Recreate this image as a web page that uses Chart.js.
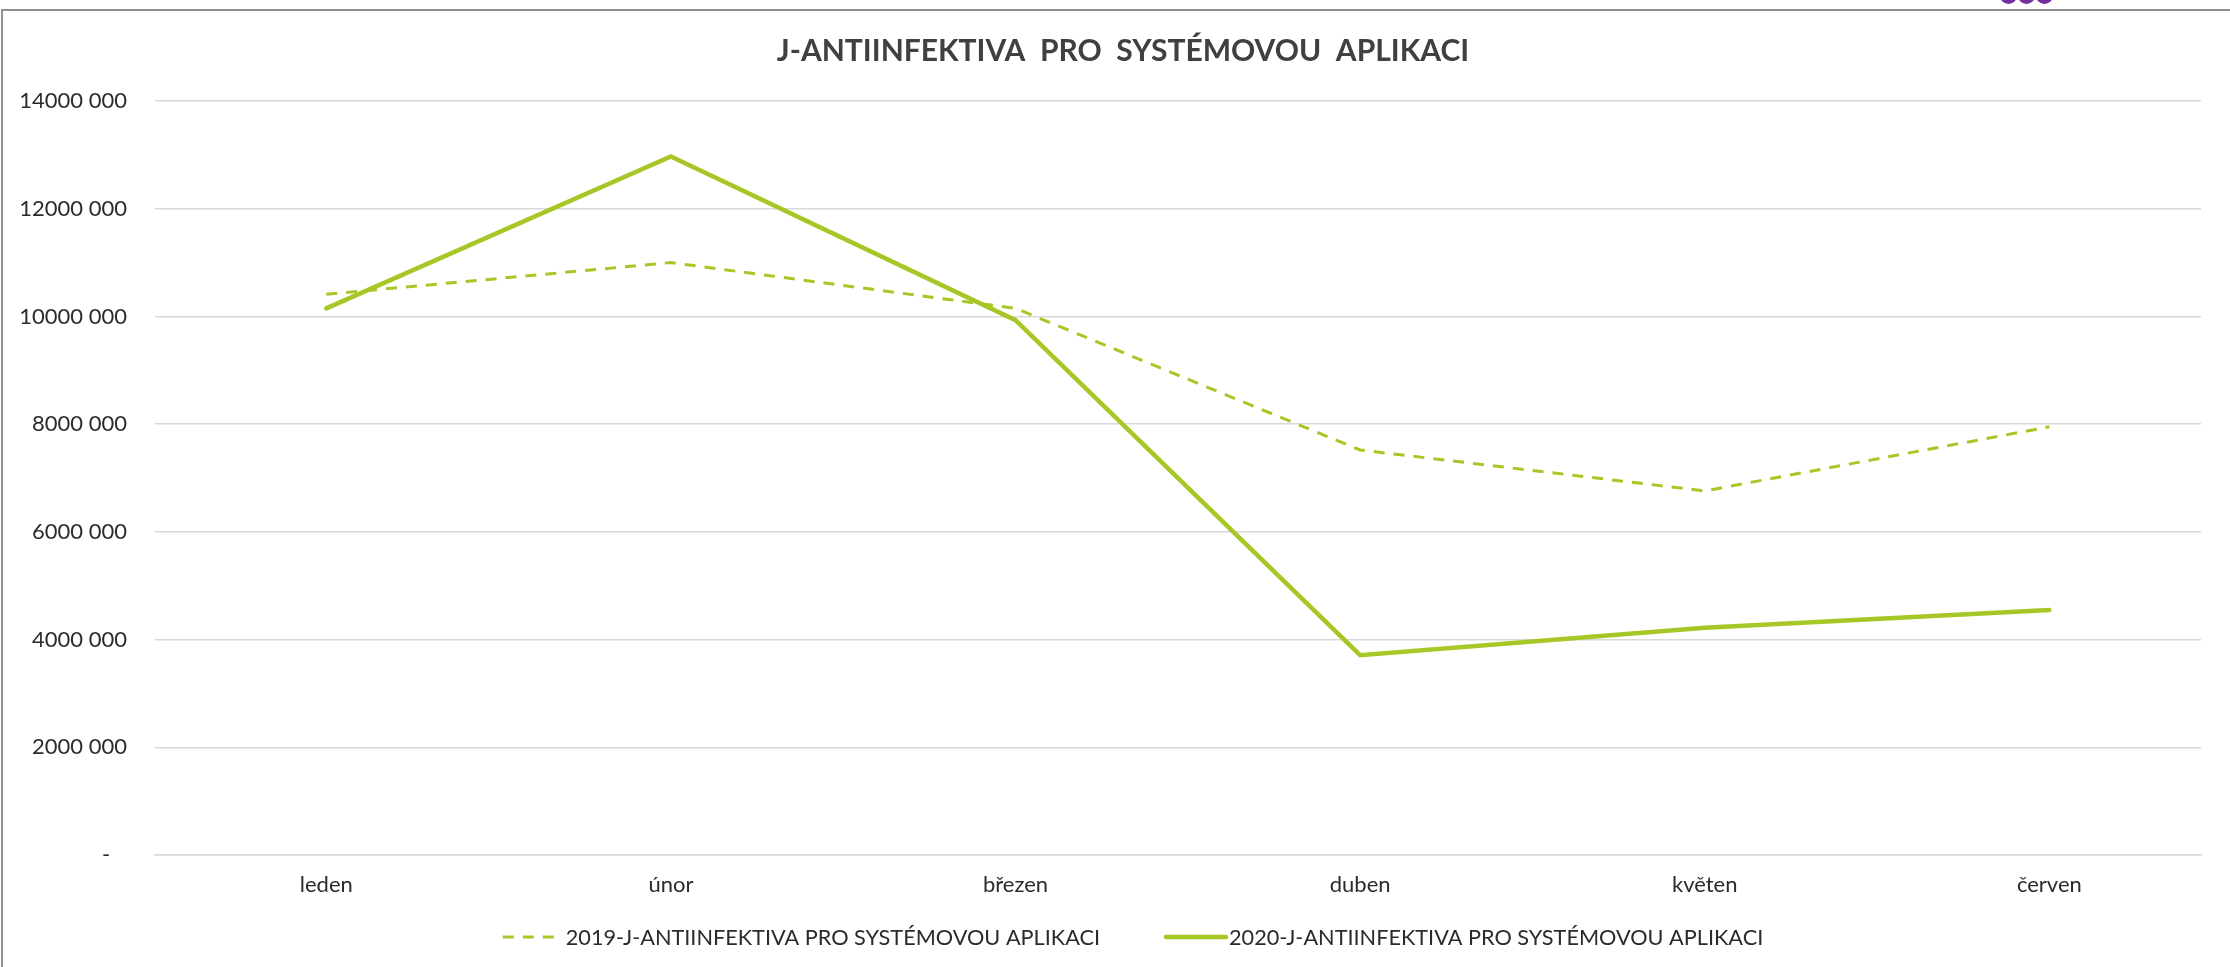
<!DOCTYPE html>
<html>
<head>
<meta charset="utf-8">
<script src="https://cdn.jsdelivr.net/npm/chart.js@4.4.1/dist/chart.umd.min.js"></script>
<style>
  html, body { margin: 0; padding: 0; background: #fff; overflow: hidden; }
  #wrap { position: relative; width: 2230px; height: 967px; }
  #frame { position: absolute; left: 1px; top: 9px; width: 2300px; height: 1000px;
           border-top: 2px solid #8f8f8f; border-left: 2px solid #8f8f8f; }
  .dot { position: absolute; top: -13px; width: 17px; height: 17px; border-radius: 50%; background: #7030a0; }
  canvas { position: absolute; left: 0; top: 0; }
</style>
</head>
<body>
<div id="wrap">
  <div id="frame"></div>
  <div class="dot" style="left:2000px"></div>
  <div class="dot" style="left:2018px"></div>
  <div class="dot" style="left:2036px"></div>
  <canvas id="chart" width="2230" height="967"></canvas>
</div>
<script>
const TITLE = "J-ANTIINFEKTIVA  PRO  SYSTÉMOVOU  APLIKACI";
const MONTHS = ["leden", "únor", "březen", "duben", "květen", "červen"];
const SERIES_2019 = [10410000, 11000000, 10150000, 7520000, 6760000, 7950000];
const SERIES_2020 = [10150000, 12970000, 9930000, 3710000, 4220000, 4550000];
const LABEL_2019 = "2019-J-ANTIINFEKTIVA PRO SYSTÉMOVOU APLIKACI";
const LABEL_2020 = "2020-J-ANTIINFEKTIVA PRO SYSTÉMOVOU APLIKACI";
const Y_MAX = 14000000;
const Y_STEP = 2000000;

const GREEN = "#a6c726";
const TEXT = "#2b2b2b";
const FONT = "Lato, 'Open Sans', sans-serif";

// excel style: "14000 000", zero shown as a dash
const fmtTick = (v) => v === 0 ? "-   " : Math.floor(v / 1000) + " 000";
// month index as x, so the plot area can be a bit narrower on the right like in excel
const toPoints = (arr) => arr.map((v, i) => ({ x: i, y: v }));

// title + legend drawn by hand, the built-in ones can't be placed like excel does it
const decorations = {
  id: "decorations",
  afterDraw(chart) {
    const ctx = chart.ctx;
    const sets = chart.data.datasets;
    ctx.save();
    ctx.fillStyle = "#404040";
    ctx.font = "bold 30px " + FONT;
    ctx.textAlign = "center";
    ctx.textBaseline = "middle";
    ctx.fillText(TITLE, 1123, 51);

    ctx.textAlign = "left";
    ctx.font = "21.7px " + FONT;
    const sample = 60, gapText = 3, gapItem = 66;
    const widths = sets.map(d => ctx.measureText(d.label).width);
    const total = widths.reduce((a, w) => a + sample + gapText + w, 0) + gapItem * (sets.length - 1);
    let x = 1133 - total / 2;
    const y = 937;
    sets.forEach((d, i) => {
      ctx.beginPath();
      ctx.strokeStyle = d.borderColor;
      ctx.lineWidth = d.borderWidth;
      ctx.setLineDash(d.borderDash || []);
      ctx.lineCap = d.borderDash ? "butt" : "round";
      ctx.moveTo(x, y);
      ctx.lineTo(x + sample, y);
      ctx.stroke();
      ctx.setLineDash([]);
      ctx.fillStyle = TEXT;
      ctx.fillText(d.label, x + sample + gapText, y + 1);
      x += sample + gapText + widths[i] + gapItem;
    });
    ctx.restore();
  }
};

new Chart(document.getElementById("chart"), {
  type: "line",
  data: {
    datasets: [
      { label: LABEL_2019, data: toPoints(SERIES_2019), borderColor: GREEN, borderWidth: 3, borderDash: [11, 9],
        pointRadius: 0, tension: 0, fill: false },
      { label: LABEL_2020, data: toPoints(SERIES_2020), borderColor: GREEN, borderWidth: 4.5,
        pointRadius: 0, tension: 0, fill: false, borderCapStyle: "round" },
    ],
  },
  options: {
    responsive: false,
    animation: false,
    layout: { padding: { left: 0, right: 29, top: 101, bottom: 0 } },
    plugins: {
      legend: { display: false },
      tooltip: { enabled: false },
      title: { display: false },
    },
    scales: {
      x: {
        type: "linear",
        min: -0.497, max: 5.44,
        grid: { display: false, drawTicks: false },
        border: { display: true, color: "#d9d9d9", width: 1.5 },
        ticks: { color: TEXT, font: { family: FONT, size: 22 }, padding: 17,
                 callback: (v) => MONTHS[v] ?? "" },
        afterBuildTicks: (s) => { s.ticks = MONTHS.map((m, i) => ({ value: i })); },
        afterFit: (s) => { s.height = 112; },
      },
      y: {
        min: 0, max: Y_MAX,
        grid: { color: "#d9d9d9", lineWidth: 1.5, drawTicks: false },
        border: { display: false },
        ticks: { stepSize: Y_STEP, color: TEXT, font: { family: FONT, size: 22 }, padding: 28, callback: fmtTick },
        afterFit: (s) => { s.width = 155; },
      },
    },
  },
  plugins: [decorations],
});
</script>
</body>
</html>
